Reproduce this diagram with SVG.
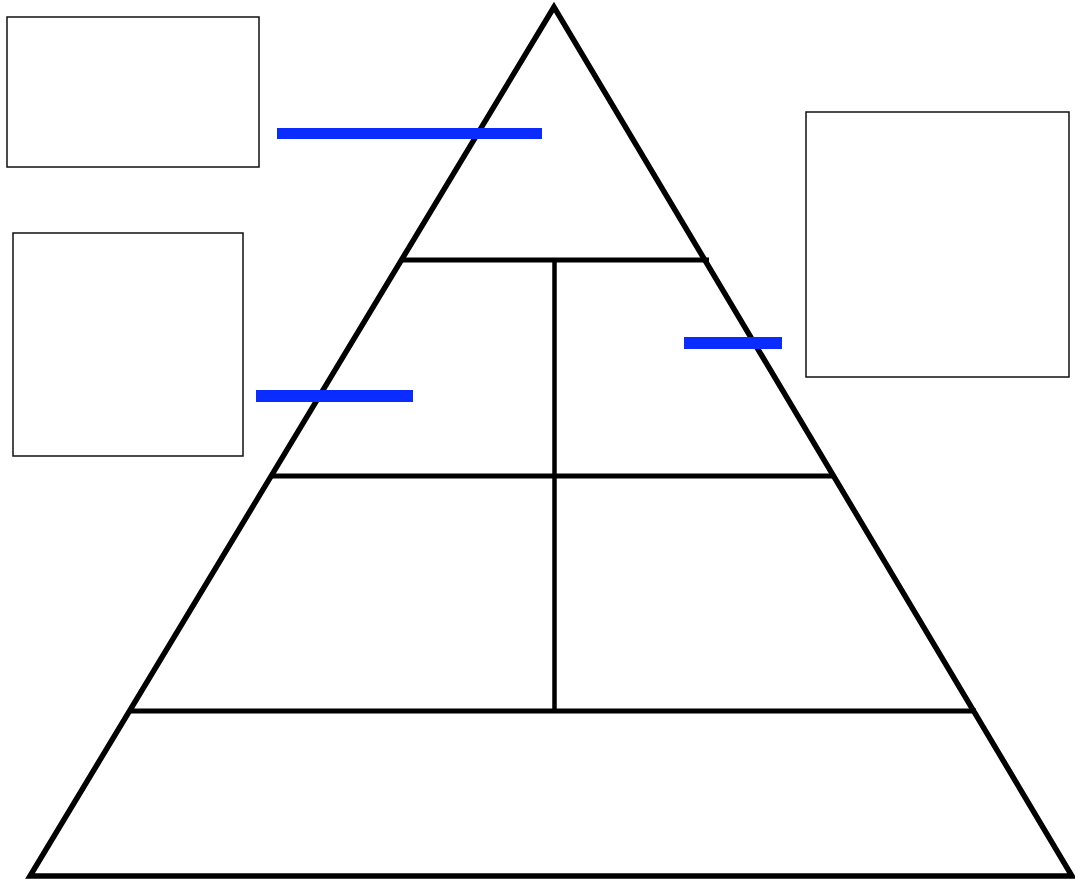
<svg xmlns="http://www.w3.org/2000/svg" width="1075" height="880" viewBox="0 0 1075 880">
<style>
.box{fill:#fff;stroke:#111;stroke-width:1.5}
.pyr{fill:none;stroke:#000;stroke-width:5.5;stroke-linejoin:miter}
.div{stroke:#000;stroke-width:5}
.vdiv{stroke:#000;stroke-width:4.5}
.bar{fill:#0a2cff}
</style>
<rect width="1075" height="880" fill="#fff"/>
<g id="pyramid">
<polygon class="pyr" points="554,7 30,876 1072,876"/>
<line class="div" x1="400" y1="260" x2="709" y2="260"/>
<line class="div" x1="270" y1="476" x2="835" y2="476"/>
<line class="div" x1="130" y1="711" x2="976" y2="711"/>
<line class="vdiv" x1="554.5" y1="260" x2="554.5" y2="711"/>
</g>
<g id="box-top-left"><rect class="box" x="7" y="17" width="252" height="150"/></g>
<g id="box-mid-left"><rect class="box" x="13" y="233" width="230" height="223"/></g>
<g id="box-right"><rect class="box" x="806" y="112" width="263" height="265"/></g>
<g id="connectors">
<rect class="bar" x="277" y="128" width="265" height="11"/>
<rect class="bar" x="256" y="390" width="157" height="12"/>
<rect class="bar" x="684" y="337" width="98" height="12"/>
</g>
</svg>
